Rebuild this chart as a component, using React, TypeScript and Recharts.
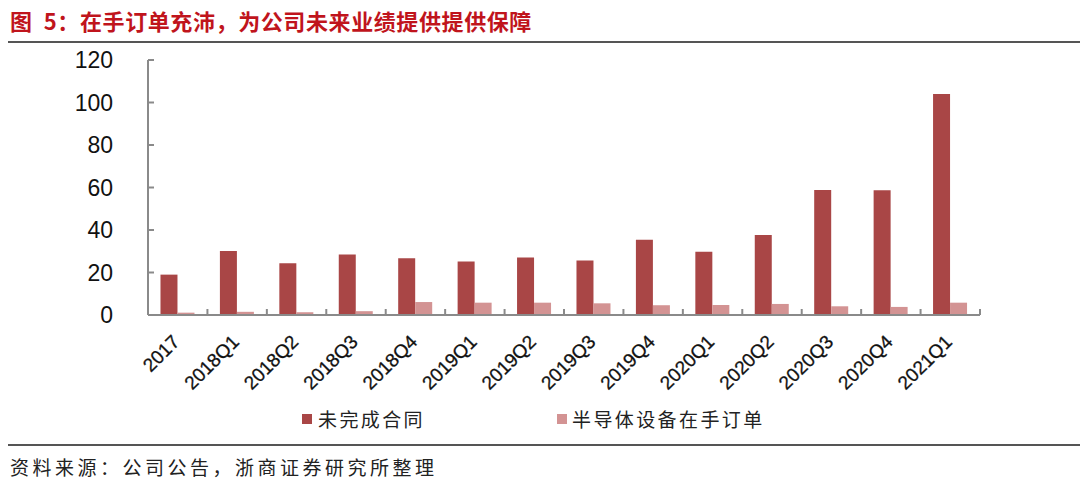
import { BarChart, Bar, XAxis, YAxis } from "recharts";

const periods = [
  "2017", "2018Q1", "2018Q2", "2018Q3", "2018Q4", "2019Q1", "2019Q2",
  "2019Q3", "2019Q4", "2020Q1", "2020Q2", "2020Q3", "2020Q4", "2021Q1",
];
const unfinishedContracts = [19, 30.1, 24.3, 28.5, 26.7, 25.2, 27.1, 25.6, 35.4, 29.8, 37.6, 58.8, 58.7, 104];
const equipmentOrders = [1.1, 1.5, 1.3, 1.8, 6.1, 5.8, 5.8, 5.5, 4.6, 4.7, 5.2, 4.1, 3.8, 5.8];
const yTicks = [0, 20, 40, 60, 80, 100, 120];

const seriesNames = ["未完成合同", "半导体设备在手订单"];

const data = periods.map((p, i) => ({
  period: p,
  contracts: unfinishedContracts[i],
  orders: equipmentOrders[i],
}));

const DARK = "#A94646";
const LIGHT = "#D39393";
const AXIS = "#8a8a8a";
const CJK = '"Noto Sans CJK SC", "Noto Sans", sans-serif';
const NUM = '"Liberation Sans", Arial, sans-serif';

// plot box
const CHART_W = 1080;
const CHART_H = 400;
const LEFT = 148;
const RIGHT = 100;
const band = (CHART_W - LEFT - RIGHT) / periods.length;

function YTick(props: any) {
  const { x, y, payload } = props;
  return (
    <g>
      <line x1={x + 35} x2={x + 41} y1={y} y2={y} stroke={AXIS} strokeWidth={2} />
      <text x={x} y={y} dy={8} textAnchor="end" fontFamily={NUM} fontSize={23} fill="#111">
        {payload.value}
      </text>
    </g>
  );
}

function XTick(props: any) {
  const { x, y, payload, index } = props;
  const isLast = index === periods.length - 1;
  return (
    <g>
      <line x1={x - band / 2} x2={x - band / 2} y1={y} y2={y - 6} stroke={AXIS} strokeWidth={2} />
      {isLast && (
        <line x1={x + band / 2} x2={x + band / 2} y1={y} y2={y - 6} stroke={AXIS} strokeWidth={2} />
      )}
      <text
        transform={`translate(${x + 3}, ${y + 28}) rotate(-45)`}
        textAnchor="end"
        fontFamily={NUM}
        fontSize={19}
        fill="#111"
        stroke="#111"
        strokeWidth={0.3}
      >
        {payload.value}
      </text>
    </g>
  );
}

export default function App() {
  return (
    <div
      style={{
        position: "absolute",
        left: 0,
        top: 0,
        width: 1080,
        height: 488,
        background: "#fff",
        overflow: "hidden",
      }}
    >
      {/* title */}
      <div
        style={{
          position: "absolute",
          left: 10,
          top: 5,
          fontFamily: CJK,
          fontSize: 22,
          fontWeight: 700,
          letterSpacing: 0.6,
          color: "#C0141C",
          whiteSpace: "pre",
          lineHeight: "30px",
        }}
      >
        {"图  5：在手订单充沛，为公司未来业绩提供提供保障"}
      </div>
      <div style={{ position: "absolute", left: 8, right: 0, top: 41, height: 2, background: "#555" }} />

      <div style={{ position: "absolute", left: 0, top: 0 }}>
        <BarChart
          width={CHART_W}
          height={CHART_H}
          data={data}
          margin={{ top: 60, right: RIGHT, bottom: 0, left: 0 }}
          barCategoryGap="21%"
          barGap={0}
        >
          <XAxis
            dataKey="period"
            height={85}
            interval={0}
            axisLine={{ stroke: AXIS, strokeWidth: 2 }}
            tickLine={false}
            tickSize={0}
            tickMargin={0}
            tick={<XTick />}
          />
          <YAxis
            width={LEFT}
            domain={[0, 120]}
            ticks={yTicks}
            interval={0}
            axisLine={{ stroke: AXIS, strokeWidth: 2 }}
            tickLine={false}
            tickSize={0}
            tickMargin={35}
            tick={<YTick />}
          />
          <Bar dataKey="contracts" fill={DARK} isAnimationActive={false} />
          <Bar dataKey="orders" fill={LIGHT} isAnimationActive={false} />
        </BarChart>
      </div>

      {/* legend */}
      <div
        style={{
          position: "absolute",
          top: 405,
          left: 0,
          fontFamily: CJK,
          fontSize: 19,
          letterSpacing: 2.4,
          color: "#222",
          lineHeight: "28px",
        }}
      >
        <div style={{ position: "absolute", left: 302, top: 9, width: 10, height: 10, background: DARK }} />
        <div style={{ position: "absolute", left: 318, top: 0, whiteSpace: "nowrap" }}>{seriesNames[0]}</div>
        <div style={{ position: "absolute", left: 557, top: 9, width: 10, height: 10, background: LIGHT }} />
        <div style={{ position: "absolute", left: 572, top: 0, whiteSpace: "nowrap" }}>{seriesNames[1]}</div>
      </div>

      <div style={{ position: "absolute", left: 8, right: 0, top: 444, height: 2, background: "#555" }} />
      <div
        style={{
          position: "absolute",
          left: 10,
          top: 453,
          fontFamily: CJK,
          fontSize: 19,
          letterSpacing: 3.5,
          color: "#222",
          whiteSpace: "nowrap",
          lineHeight: "28px",
        }}
      >
        资料来源：公司公告，浙商证券研究所整理
      </div>
    </div>
  );
}
